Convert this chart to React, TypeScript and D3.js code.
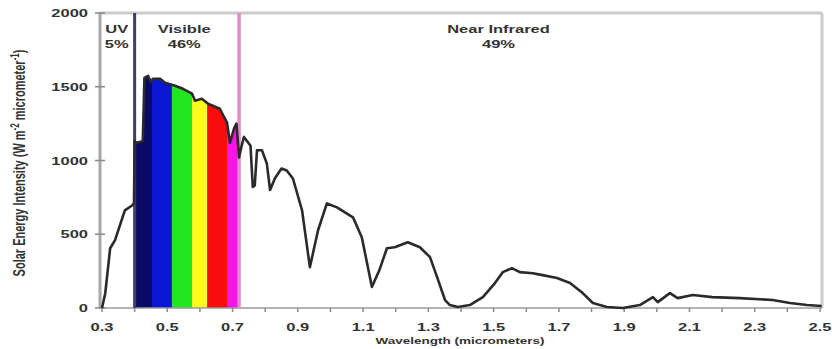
import React from "react";
import * as d3 from "d3";

// Solar spectrum: wavelength (micrometers) and intensity (W m^-2 micrometer^-1)
const wavelengths = [
  0.3, 0.31, 0.325, 0.34, 0.37, 0.392, 0.398, 0.4, 0.405, 0.425, 0.43, 0.441, 0.45,
  0.456, 0.478, 0.493, 0.524, 0.548, 0.576, 0.585, 0.606, 0.625, 0.661, 0.683, 0.692,
  0.705, 0.712, 0.72, 0.728, 0.735, 0.755, 0.762, 0.768, 0.775, 0.79, 0.805, 0.815,
  0.83, 0.85, 0.866, 0.885, 0.913, 0.937, 0.962, 0.989, 1.02, 1.069, 1.096, 1.127,
  1.15, 1.173, 1.197, 1.237, 1.274, 1.305, 1.33, 1.351, 1.366, 1.39, 1.427, 1.467,
  1.504, 1.528, 1.556, 1.58, 1.62, 1.65, 1.694, 1.734, 1.773, 1.804, 1.847, 1.896,
  1.948, 1.988, 2.003, 2.04, 2.064, 2.11, 2.17, 2.254, 2.355, 2.408, 2.46, 2.505,
];
const intensity = [
  0, 100, 405, 460, 662, 695, 710, 1130, 1120, 1130, 1560, 1574, 1530,
  1554, 1554, 1527, 1507, 1486, 1453, 1405, 1419, 1385, 1351, 1257, 1120,
  1220, 1250, 1020, 1100, 1160, 1100, 820, 830, 1070, 1070, 980, 800,
  880, 946, 932, 878, 662, 277, 527, 709, 682, 615, 480, 142,
  257, 405, 412, 446, 412, 345, 189, 54, 20, 7, 20, 74,
  169, 243, 270, 243, 236, 223, 203, 169, 101, 34, 7, 0,
  20, 74, 40, 101, 67, 88, 74, 67, 54, 34, 20, 14,
];

// Visible colour bands (start, end in micrometers)
const bandStarts = [0.4, 0.453, 0.514, 0.576, 0.622, 0.683];
const bandEnds = [0.453, 0.514, 0.576, 0.622, 0.683, 0.72];
const bandColors = ["#0a0a66", "#0a16d2", "#22e622", "#fbfb1e", "#fa0c0c", "#f614e6"];

// Region boundaries and labels
const uvEdge = 0.4;
const irEdge = 0.72;
const regionNames = ["UV", "Visible", "Near Infrared"];
const regionShares = ["5%", "46%", "49%"];
const regionCenters = [0.345, 0.552, 1.515];

const xTickValues = d3.range(0, 23).map((i) => +(0.3 + i * 0.1).toFixed(1));
const xLabelValues = [0.3, 0.5, 0.7, 0.9, 1.1, 1.3, 1.5, 1.7, 1.9, 2.1, 2.3, 2.5];
const yTickValues = [0, 500, 1000, 1500, 2000];

const W = 832;
const H = 349;
const FONT = "'Liberation Sans', Arial, sans-serif";
const STRETCH = 1.5;

export default function App() {
  const x = d3.scaleLinear().domain([0.3, 2.5]).range([102, 820]);
  const y = d3.scaleLinear().domain([0, 2000]).range([308, 13]);
  const pts: [number, number][] = wavelengths.map((w, i) => [w, intensity[i]]);

  const line = d3
    .line<[number, number]>()
    .x((d) => x(d[0]))
    .y((d) => y(d[1]));
  const area = d3
    .area<[number, number]>()
    .x((d) => x(d[0]))
    .y0(y(0))
    .y1((d) => y(d[1]));

  const left = 100;
  const right = 822;
  const top = y(2000);
  const bottom = y(0);

  const txt = (
    key: string,
    tx: number,
    ty: number,
    s: string,
    anchor: "start" | "middle" | "end" = "middle",
    size = 11
  ) => (
    <text
      key={key}
      transform={`translate(${tx},${ty}) scale(${STRETCH},1)`}
      textAnchor={anchor}
      fontFamily={FONT}
      fontWeight="bold"
      fontSize={size}
      fill="#333"
    >
      {s}
    </text>
  );

  return (
    <svg
      width={W}
      height={H}
      style={{ position: "absolute", left: 0, top: 0, background: "#fff" }}
    >
      <defs>
        <clipPath id="under-curve">
          <path d={area(pts) || ""} />
        </clipPath>
      </defs>

      {/* coloured visible-spectrum fill under the curve */}
      <g clipPath="url(#under-curve)">
        {bandStarts.map((b, i) => (
          <rect
            key={i}
            x={x(b)}
            y={top}
            width={x(bandEnds[i]) - x(b) + 0.5}
            height={bottom - top}
            fill={bandColors[i]}
          />
        ))}
      </g>

      {/* frame */}
      <line x1={left} x2={right} y1={top} y2={top} stroke="#cbcbcb" strokeWidth={3} />
      <line x1={right} x2={right} y1={top} y2={bottom} stroke="#cbcbcb" strokeWidth={3} />
      <line x1={left} x2={right} y1={bottom} y2={bottom} stroke="#9a9a9a" strokeWidth={1.5} />

      {/* x ticks */}
      {xTickValues.map((v) => (
        <line key={v} x1={x(v)} x2={x(v)} y1={bottom} y2={bottom + 4} stroke="#8a8a8a" strokeWidth={1.5} />
      ))}
      {xLabelValues.map((v) => txt(`xl${v}`, x(v), 331, v.toFixed(1)))}

      {/* region dividers */}
      <line x1={x(uvEdge)} x2={x(uvEdge)} y1={top} y2={bottom} stroke="#3e3e66" strokeWidth={3} />
      <line x1={x(irEdge)} x2={x(irEdge)} y1={top} y2={bottom} stroke="#e38bcb" strokeWidth={3.5} />

      {/* left axis */}
      <line x1={left} x2={left} y1={top - 1} y2={bottom} stroke="#a8a8a8" strokeWidth={3} />
      {yTickValues.map((v) => (
        <line key={v} x1={left - 5} x2={left + 5} y1={y(v)} y2={y(v)} stroke="#8a8a8a" strokeWidth={1.5} />
      ))}
      {yTickValues.map((v) => txt(`yl${v}`, 88, y(v) + 4, String(v), "end"))}

      {/* spectrum curve */}
      <path d={line(pts) || ""} fill="none" stroke="#2a2a2a" strokeWidth={2.6} strokeLinejoin="round" />

      {/* region labels */}
      {regionNames.map((n, i) => txt(`rn${i}`, x(regionCenters[i]), 33, n))}
      {regionShares.map((n, i) => txt(`rs${i}`, x(regionCenters[i]), 48, n))}

      {/* axis titles */}
      <text
        transform={`translate(25,163) scale(${STRETCH},1) rotate(-90)`}
        textAnchor="middle"
        fontFamily={FONT}
        fontWeight="bold"
        fontSize={11}
        fill="#333"
      >
        Solar Energy Intensity (W m
        <tspan baselineShift="super" fontSize={8}>-2</tspan> micrometer
        <tspan baselineShift="super" fontSize={8}>-1</tspan>)
      </text>
      {txt("xtitle", 460, 344, "Wavelength (micrometers)", "middle", 9)}
    </svg>
  );
}
